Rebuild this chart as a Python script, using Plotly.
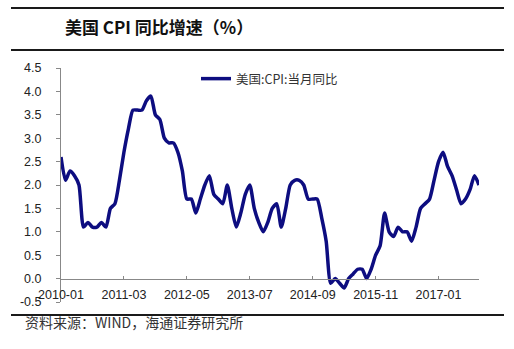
import plotly.graph_objects as go

# Monthly US CPI year-over-year change (%), 2010-01 .. 2017-10
months = [f"{y}-{m:02d}" for y in range(2010, 2018) for m in range(1, 13)][:94]
cpi_yoy = [
    2.6, 2.1, 2.3, 2.2, 2.0, 1.1, 1.2, 1.1, 1.1, 1.2, 1.1, 1.5,   # 2010
    1.6, 2.1, 2.7, 3.2, 3.6, 3.6, 3.6, 3.8, 3.9, 3.5, 3.4, 3.0,   # 2011
    2.9, 2.9, 2.7, 2.3, 1.7, 1.7, 1.4, 1.7, 2.0, 2.2, 1.8, 1.7,   # 2012
    1.6, 2.0, 1.5, 1.1, 1.4, 1.8, 2.0, 1.5, 1.2, 1.0, 1.2, 1.5,   # 2013
    1.6, 1.1, 1.5, 2.0, 2.1, 2.1, 2.0, 1.7, 1.7, 1.7, 1.3, 0.8,   # 2014
    -0.1, 0.0, -0.1, -0.2, 0.0, 0.1, 0.2, 0.2, 0.0, 0.2, 0.5, 0.7,  # 2015
    1.4, 1.0, 0.9, 1.1, 1.0, 1.0, 0.8, 1.1, 1.5, 1.6, 1.7, 2.1,   # 2016
    2.5, 2.7, 2.4, 2.2, 1.9, 1.6, 1.7, 1.9, 2.2, 2.0,             # 2017
]
x_ticks = ["2010-01", "2011-03", "2012-05", "2013-07", "2014-09", "2015-11", "2017-01"]
y_ticks = [-0.5, 0.0, 0.5, 1.0, 1.5, 2.0, 2.5, 3.0, 3.5, 4.0, 4.5]

title_text = "美国 CPI 同比增速（%）"
series_name = "美国:CPI:当月同比"
source_text = "资料来源：WIND，海通证券研究所"

W, H = 514, 349
ML, MR, MT, MB = 61, 35, 68, 47
PW, PH = W - ML - MR, H - MT - MB


def px(x):
    return (x - ML) / PW


def py(y):
    return (H - MB - y) / PH


CJK = "Noto Sans CJK SC"
LAT = "Liberation Sans, Arial"

fig = go.Figure()
fig.add_trace(go.Scatter(
    x=months, y=cpi_yoy, mode="lines", name=series_name,
    line=dict(color="#0d0d80", width=3.5, shape="spline", smoothing=0.6),
))

fig.update_layout(
    width=W, height=H,
    margin=dict(l=ML, r=MR, t=MT, b=MB),
    paper_bgcolor="white", plot_bgcolor="white",
    showlegend=True,
    legend=dict(
        x=px(196), y=py(79), xanchor="left", yanchor="middle",
        bgcolor="rgba(0,0,0,0)", font=dict(family=CJK, size=12.5, color="#333"),
    ),
    xaxis=dict(
        type="category", categoryorder="array", categoryarray=months,
        range=[0, len(months) - 1],
        tickmode="array", tickvals=x_ticks, ticktext=x_ticks,
        anchor="free", position=0.5 / 5.0,
        showline=True, linecolor="#888", linewidth=1,
        ticks="inside", ticklen=3, tickcolor="#888",
        ticklabelstandoff=4,
        showgrid=False, zeroline=False,
        tickfont=dict(family=LAT, size=12.5, color="#222"),
    ),
    yaxis=dict(
        range=[-0.5, 4.5], tickmode="array", tickvals=y_ticks,
        ticktext=[f"{v:.1f}" for v in y_ticks],
        showline=True, linecolor="#888", linewidth=1,
        ticks="outside", ticklen=4, tickcolor="#888",
        ticklabelstandoff=12,
        showgrid=False, zeroline=False,
        tickfont=dict(family=LAT, size=12.5, color="#222"),
    ),
)

# Header / footer rules
for yy in (8, 50, 315):
    fig.add_shape(type="line", xref="paper", yref="paper",
                  x0=px(11), x1=px(504), y0=py(yy), y1=py(yy),
                  line=dict(color="#1a1a1a", width=2))

fig.add_annotation(text=f"<b>{title_text}</b>", xref="paper", yref="paper",
                   x=px(63), y=py(27), xanchor="left", yanchor="middle",
                   showarrow=False, font=dict(family=CJK, size=17, color="#111"))
fig.add_annotation(text=source_text, xref="paper", yref="paper",
                   x=px(23), y=py(322), xanchor="left", yanchor="middle",
                   showarrow=False, font=dict(family=CJK, size=14, color="#333"))

fig.write_html("out.html")
